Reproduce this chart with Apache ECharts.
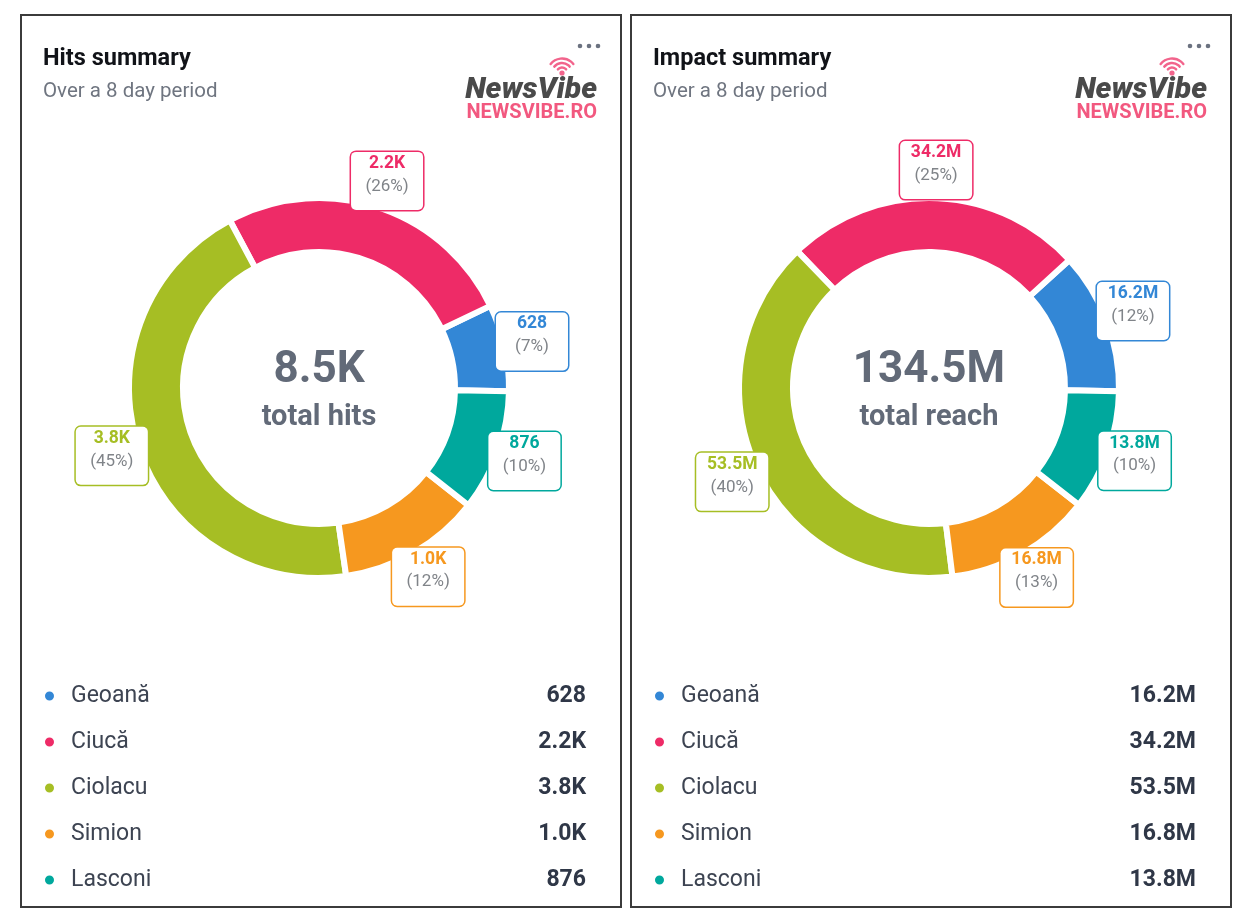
<!DOCTYPE html>
<html><head><meta charset="utf-8">
<script src="https://cdn.jsdelivr.net/npm/echarts@6/dist/echarts.min.js"></script>
<style>
html,body{margin:0;padding:0;background:#fff;width:1248px;height:922px;overflow:hidden}
.card{position:absolute;top:14px;width:602px;height:894px;border:2px solid #3b3b3b;box-sizing:border-box;background:#fff}
.chart{width:598px;height:890px}
</style></head><body>
<div class="card" style="left:20px"><div id="c1" class="chart"></div></div>
<div class="card" style="left:630px"><div id="c2" class="chart"></div></div>
<script>
const names = ['Geoană', 'Ciucă', 'Ciolacu', 'Simion', 'Lasconi'];
const colors = ['#3387D6', '#EE2B67', '#A6BE24', '#F6981F', '#00A89D'];
const hitsValues = [628, 2180, 3780, 1030, 876];
const reachValues = [16200000, 34200000, 53500000, 16800000, 13800000];
const cardTitles = ['Hits summary', 'Impact summary'];
const cardSubtitle = 'Over a 8 day period';
const centerCaptions = ['total hits', 'total reach'];

const FONT = 'Roboto, "Noto Sans", sans-serif';

function fmt(v) {
  if (v >= 1e6) return (v / 1e6).toFixed(1) + 'M';
  if (v >= 1e3) return (v / 1e3).toFixed(1) + 'K';
  return String(v);
}

function buildOption(title, values, caption) {
  const total = values.reduce((a, b) => a + b, 0);
  const cx = 297, cy = 372;
  const data = names.map((n, i) => ({ name: n, value: values[i], itemStyle: { color: colors[i] } }));
  const rich = {};
  colors.forEach((c, i) => {
    rich['v' + i] = { fontFamily: FONT, fontSize: 17.5, fontWeight: 'bold', color: c, lineHeight: 23, align: 'center' };
  });
  rich.p = { fontFamily: FONT, fontSize: 17, color: '#808489', lineHeight: 23, align: 'center' };

  const wifi = { cx: 540, cy: 57 };
  const pink = '#F2648C';
  return {
    animation: false,
    backgroundColor: '#fff',
    graphic: [
      { type: 'text', x: 21, y: 43, style: { text: title, fontFamily: FONT, fontSize: 23.5, fontWeight: 'bold', fill: '#111318', align: 'left', verticalAlign: 'middle' } },
      { type: 'text', x: 21, y: 76, style: { text: cardSubtitle, fontFamily: FONT, fontSize: 20.5, fill: '#6f7580', align: 'left', verticalAlign: 'middle' } },
      { type: 'circle', shape: { cx: 558, cy: 30, r: 2.3 }, style: { fill: '#6b7280' } },
      { type: 'circle', shape: { cx: 567, cy: 30, r: 2.3 }, style: { fill: '#6b7280' } },
      { type: 'circle', shape: { cx: 576, cy: 30, r: 2.3 }, style: { fill: '#6b7280' } },
      { type: 'text', x: 575, y: 74, style: { text: 'NewsVibe', fontFamily: FONT, fontSize: 30, fontWeight: 900, fontStyle: 'italic', fill: '#4a4a4a', align: 'right', verticalAlign: 'middle' } },
      { type: 'text', x: 575, y: 96.5, style: { text: 'NEWSVIBE.RO', fontFamily: FONT, fontSize: 20, fontWeight: 'bold', fill: '#F2587F', align: 'right', verticalAlign: 'middle' } },
      { type: 'arc', shape: { cx: wifi.cx, cy: wifi.cy, r: 5.5, startAngle: -Math.PI / 2 - 0.85, endAngle: -Math.PI / 2 + 0.85 }, style: { stroke: pink, lineWidth: 2.4, fill: null, lineCap: 'round' } },
      { type: 'arc', shape: { cx: wifi.cx, cy: wifi.cy, r: 10, startAngle: -Math.PI / 2 - 0.88, endAngle: -Math.PI / 2 + 0.88 }, style: { stroke: pink, lineWidth: 2.4, fill: null, lineCap: 'round' } },
      { type: 'arc', shape: { cx: wifi.cx, cy: wifi.cy, r: 14.5, startAngle: -Math.PI / 2 - 0.9, endAngle: -Math.PI / 2 + 0.9 }, style: { stroke: pink, lineWidth: 2.4, fill: null, lineCap: 'round' } },
      { type: 'circle', shape: { cx: wifi.cx, cy: wifi.cy, r: 2.6 }, style: { fill: pink } },
      { type: 'text', x: cx, y: 355, style: { text: fmt(total), fontFamily: FONT, fontSize: 44, fontWeight: 'bold', fill: '#626a78', align: 'center', verticalAlign: 'middle' } },
      { type: 'text', x: cx, y: 402, style: { text: caption, fontFamily: FONT, fontSize: 29, fontWeight: 'bold', fill: '#626a78', align: 'center', verticalAlign: 'middle' } }
    ],
    legend: {
      orient: 'vertical', left: 21, top: 668.5, padding: 0, icon: 'circle', itemWidth: 11, itemHeight: 11, itemGap: 23,
      selectedMode: false,
      data: names.map((n, i) => ({ name: n, itemStyle: { color: colors[i] } })),
      formatter: name => '{n|' + name + '}{v|' + fmt(values[names.indexOf(name)]) + '}',
      textStyle: {
        rich: {
          n: { fontFamily: FONT, fontSize: 23, color: '#3d4452', width: 439, padding: [0, 0, 0, 11], lineHeight: 23 },
          v: { fontFamily: FONT, fontSize: 23, fontWeight: 'bold', color: '#2f3747', width: 76, align: 'right', lineHeight: 23 }
        }
      }
    },
    series: [
      {
        type: 'pie', center: [cx, cy], radius: [136, 190], startAngle: -1, clockwise: false,
        silent: true, label: { show: false }, labelLine: { show: false },
        itemStyle: { borderColor: '#fff', borderWidth: 6 },
        emphasis: { disabled: true },
        data: data
      },
      {
        type: 'pie', center: [cx, cy], radius: [207, 223], startAngle: -1, clockwise: false,
        silent: true, z: 5, percentPrecision: 0,
        itemStyle: { color: 'rgba(0,0,0,0)', borderWidth: 0 },
        emphasis: { disabled: true },
        labelLine: { show: false },
        label: {
          show: true, position: 'inside', rotate: 0,
          width: 70, padding: [0, 1, 12, 1],
          backgroundColor: '#fff', borderWidth: 1.5, borderRadius: 5,
          formatter: p => '{v' + p.dataIndex + '|' + fmt(p.value) + '}\n{p|(' + p.percent + '%)}',
          rich: rich
        },
        data: names.map((n, i) => ({ name: n, value: values[i], label: { borderColor: colors[i] } }))
      }
    ]
  };
}

const c1 = echarts.init(document.getElementById('c1'));
c1.setOption(buildOption(cardTitles[0], hitsValues, centerCaptions[0]));
const c2 = echarts.init(document.getElementById('c2'));
c2.setOption(buildOption(cardTitles[1], reachValues, centerCaptions[1]));
</script>
</body></html>
